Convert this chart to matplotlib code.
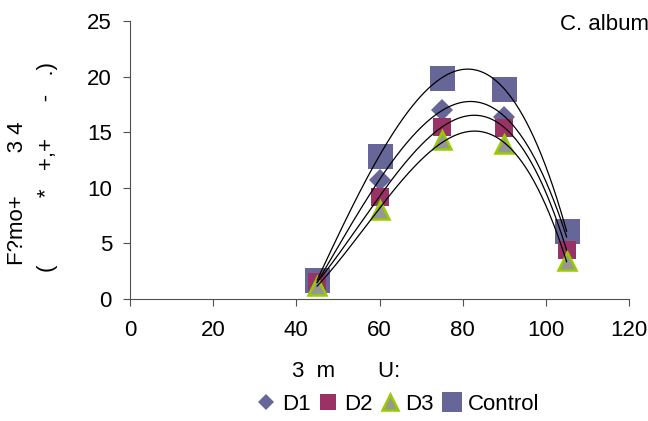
import numpy as np
import matplotlib
matplotlib.use("Agg")
import matplotlib.pyplot as plt
from matplotlib.lines import Line2D

plt.rcParams['font.family'] = ['Liberation Sans', 'DejaVu Sans']

# Days after sowing and measured values for each treatment
days = [45, 60, 75, 90, 105]
d1 = [1.5, 10.7, 17.0, 16.4, 5.6]
d2 = [1.5, 9.2, 15.5, 15.4, 4.4]
d3 = [1.2, 8.0, 14.3, 13.9, 3.4]
control = [1.7, 12.9, 19.9, 18.9, 6.1]

series_names = ["D1", "D2", "D3", "Control"]
x_ticks = [0, 20, 40, 60, 80, 100, 120]
y_ticks = [0, 5, 10, 15, 20, 25]

FS = 16
W, H = 648, 421
fig = plt.figure(figsize=(W / 100, H / 100), dpi=100)
ax = fig.add_axes([130 / W, 1 - 299 / H, 499 / W, 278 / H])

styles = {
    "D1": dict(marker="D", mfc="#666699", mec="#666699", mew=0),
    "D2": dict(marker="s", mfc="#993366", mec="#993366", mew=0),
    "D3": dict(marker="^", mfc="#969696", mec="#99CC00", mew=1.8),
    "Control": dict(marker="s", mfc="#666699", mec="#666699", mew=0),
}
plot_ms = {"D1": 11, "D2": 13, "D3": 13.5, "Control": 18}
legend_ms = {"D1": 8.5, "D2": 11, "D3": 11.5, "Control": 15}
data = {"D1": d1, "D2": d2, "D3": d3, "Control": control}
draw_order = ["Control", "D1", "D2", "D3"]

for z, name in enumerate(draw_order):
    ax.plot(days, data[name], ls="none", ms=plot_ms[name], zorder=3 + z,
            clip_on=False, **styles[name])

# Third-order polynomial trend lines
xs = np.linspace(days[0], days[-1], 200)
for name in series_names:
    coef = np.polyfit(days, data[name], 3)
    ax.plot(xs, np.polyval(coef, xs), color="black", lw=0.9, zorder=10)

ax.set_xlim(0, 120)
ax.set_ylim(0, 25)
ax.set_xticks(x_ticks)
ax.set_yticks(y_ticks)
ax.tick_params(direction="out", length=5, width=0.8, color="#505050", labelsize=FS)
ax.tick_params(axis="y", pad=8)
ax.tick_params(axis="x", pad=10)
for side in ("top", "right"):
    ax.spines[side].set_visible(False)
for side in ("left", "bottom"):
    ax.spines[side].set_color("#505050")
    ax.spines[side].set_linewidth(0.8)

# Axis titles
fig.text(292 / W, 1 - 377 / H, "3  m       U:", fontsize=FS, ha="left", va="baseline")
fig.text(18 / W, 1 - 265 / H, "F?mo+" + " " * 7 + "3 4", fontsize=FS, rotation=90,
         ha="center", va="bottom")
fig.text(48 / W, 1 - 272 / H,
         "(" + " " * 11 + "*" + " " * 3 + "+,+" + " " * 6 + "-" + " " * 3 + ".)",
         fontsize=FS, rotation=90, ha="center", va="bottom")

fig.text(560 / W, 1 - 30 / H, "C. album", fontsize=FS, ha="left", va="baseline")

handles = [Line2D([], [], ls="none", ms=legend_ms[n], **styles[n]) for n in series_names]
fig.legend(handles, series_names, loc="center", bbox_to_anchor=(397 / W, 1 - 404 / H),
           ncol=4, frameon=False, fontsize=FS, handlelength=1.0, handletextpad=0.2,
           columnspacing=0.3, borderpad=0)

fig.savefig("out.png", dpi=100)
